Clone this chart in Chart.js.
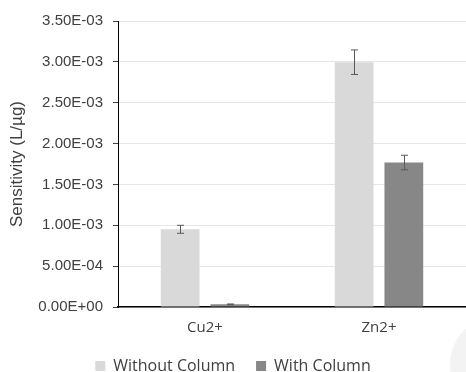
<!DOCTYPE html>
<html>
<head>
<meta charset="utf-8">
<script src="https://cdn.jsdelivr.net/npm/chart.js@4.4.1/dist/chart.umd.min.js"></script>
<style>
  html, body { margin: 0; padding: 0; background: #fff; overflow: hidden; }
  #wrap { width: 466px; height: 372px; position: relative; overflow: hidden; }
</style>
</head>
<body>
<div id="wrap"><canvas id="chart" width="466" height="384"></canvas></div>
<script>
// Sensitivity per ion, with and without the column
const categories = ['Cu2+', 'Zn2+'];
const withoutColumn    = [0.000951, 0.002996];
const withoutColumnErr = [0.000049, 0.000150];
const withColumn       = [0.000033, 0.001768];
const withColumnErr    = [0.000004, 0.000089];

const COLOR_WITHOUT = '#d9d9d9';
const COLOR_WITH    = '#878787';
const TEXT_COLOR    = '#404040';

function sciLabel(v) {
    const [m, e] = Number(v).toExponential(2).split('e');
    const n = parseInt(e, 10);
    const sign = n < 0 ? '-' : '+';
    return m + 'E' + sign + String(Math.abs(n)).padStart(2, '0');
}

// error bars drawn on top of each bar through the library's scales
const errorBars = {
    id: 'errorBars',
    afterDatasetsDraw(chart) {
        const { ctx, scales: { y } } = chart;
        ctx.save();
        ctx.strokeStyle = '#595959';
        ctx.lineWidth = 1;
        chart.data.datasets.forEach((ds, di) => {
            const meta = chart.getDatasetMeta(di);
            meta.data.forEach((bar, i) => {
                const v = ds.data[i], e = ds.errors[i];
                const x = Math.round(bar.x) + 0.5;
                const yt = y.getPixelForValue(v + e);
                const yb = y.getPixelForValue(v - e);
                ctx.beginPath();
                ctx.moveTo(x, yt); ctx.lineTo(x, yb);
                ctx.moveTo(x - 3.5, yt); ctx.lineTo(x + 3.5, yt);
                ctx.moveTo(x - 3.5, yb); ctx.lineTo(x + 3.5, yb);
                ctx.stroke();
            });
        });
        ctx.restore();
    }
};

// faint round shape in the lower right corner of the original picture
const cornerMark = {
    id: 'cornerMark',
    beforeDraw(chart) {
        const { ctx } = chart;
        ctx.save();
        ctx.fillStyle = '#f3f3f3';
        ctx.beginPath();
        ctx.arc(500, 365, 50, 0, Math.PI * 2);
        ctx.fill();
        ctx.restore();
    }
};

new Chart(document.getElementById('chart'), {
    type: 'bar',
    data: {
        labels: categories,
        datasets: [
            {
                label: 'Without Column',
                data: withoutColumn,
                errors: withoutColumnErr,
                backgroundColor: COLOR_WITHOUT,
            },
            {
                label: 'With Column',
                data: withColumn,
                errors: withColumnErr,
                backgroundColor: COLOR_WITH,
            },
        ]
    },
    plugins: [cornerMark, errorBars],
    options: {
        responsive: false,
        animation: false,
        devicePixelRatio: 1,
        layout: { padding: { top: 21, right: 0, left: 0, bottom: 0 } },
        datasets: {
            bar: { categoryPercentage: 0.571, barPercentage: 0.78 }
        },
        plugins: {
            tooltip: { enabled: false },
            legend: {
                position: 'bottom',
                labels: {
                    boxWidth: 10,
                    boxHeight: 10,
                    padding: 21,
                    color: TEXT_COLOR,
                    font: { family: 'Open Sans', size: 16 },
                }
            }
        },
        scales: {
            x: {
                afterFit(scale) { scale.height = 30; },
                grid: { display: false, drawTicks: false },
                border: { color: '#000', width: 1.5 },
                ticks: {
                    color: TEXT_COLOR,
                    padding: 12,
                    font: { family: 'Open Sans', size: 15 },
                },
            },
            y: {
                min: 0,
                max: 0.0035,
                afterFit(scale) { scale.width = 118; },
                title: {
                    display: true,
                    text: 'Sensitivity (L/µg)',
                    color: TEXT_COLOR,
                    padding: { top: 7, bottom: 0 },
                    font: { family: 'Liberation Sans', size: 17 },
                },
                border: { color: '#000', width: 1 },
                grid: {
                    color: '#e6e6e6',
                    tickColor: '#404040',
                    tickLength: 5,
                },
                ticks: {
                    stepSize: 0.0005,
                    color: TEXT_COLOR,
                    padding: 10,
                    font: { family: 'Liberation Sans', size: 15 },
                    callback: v => sciLabel(v),
                },
            },
        },
    },
});
</script>
</body>
</html>
